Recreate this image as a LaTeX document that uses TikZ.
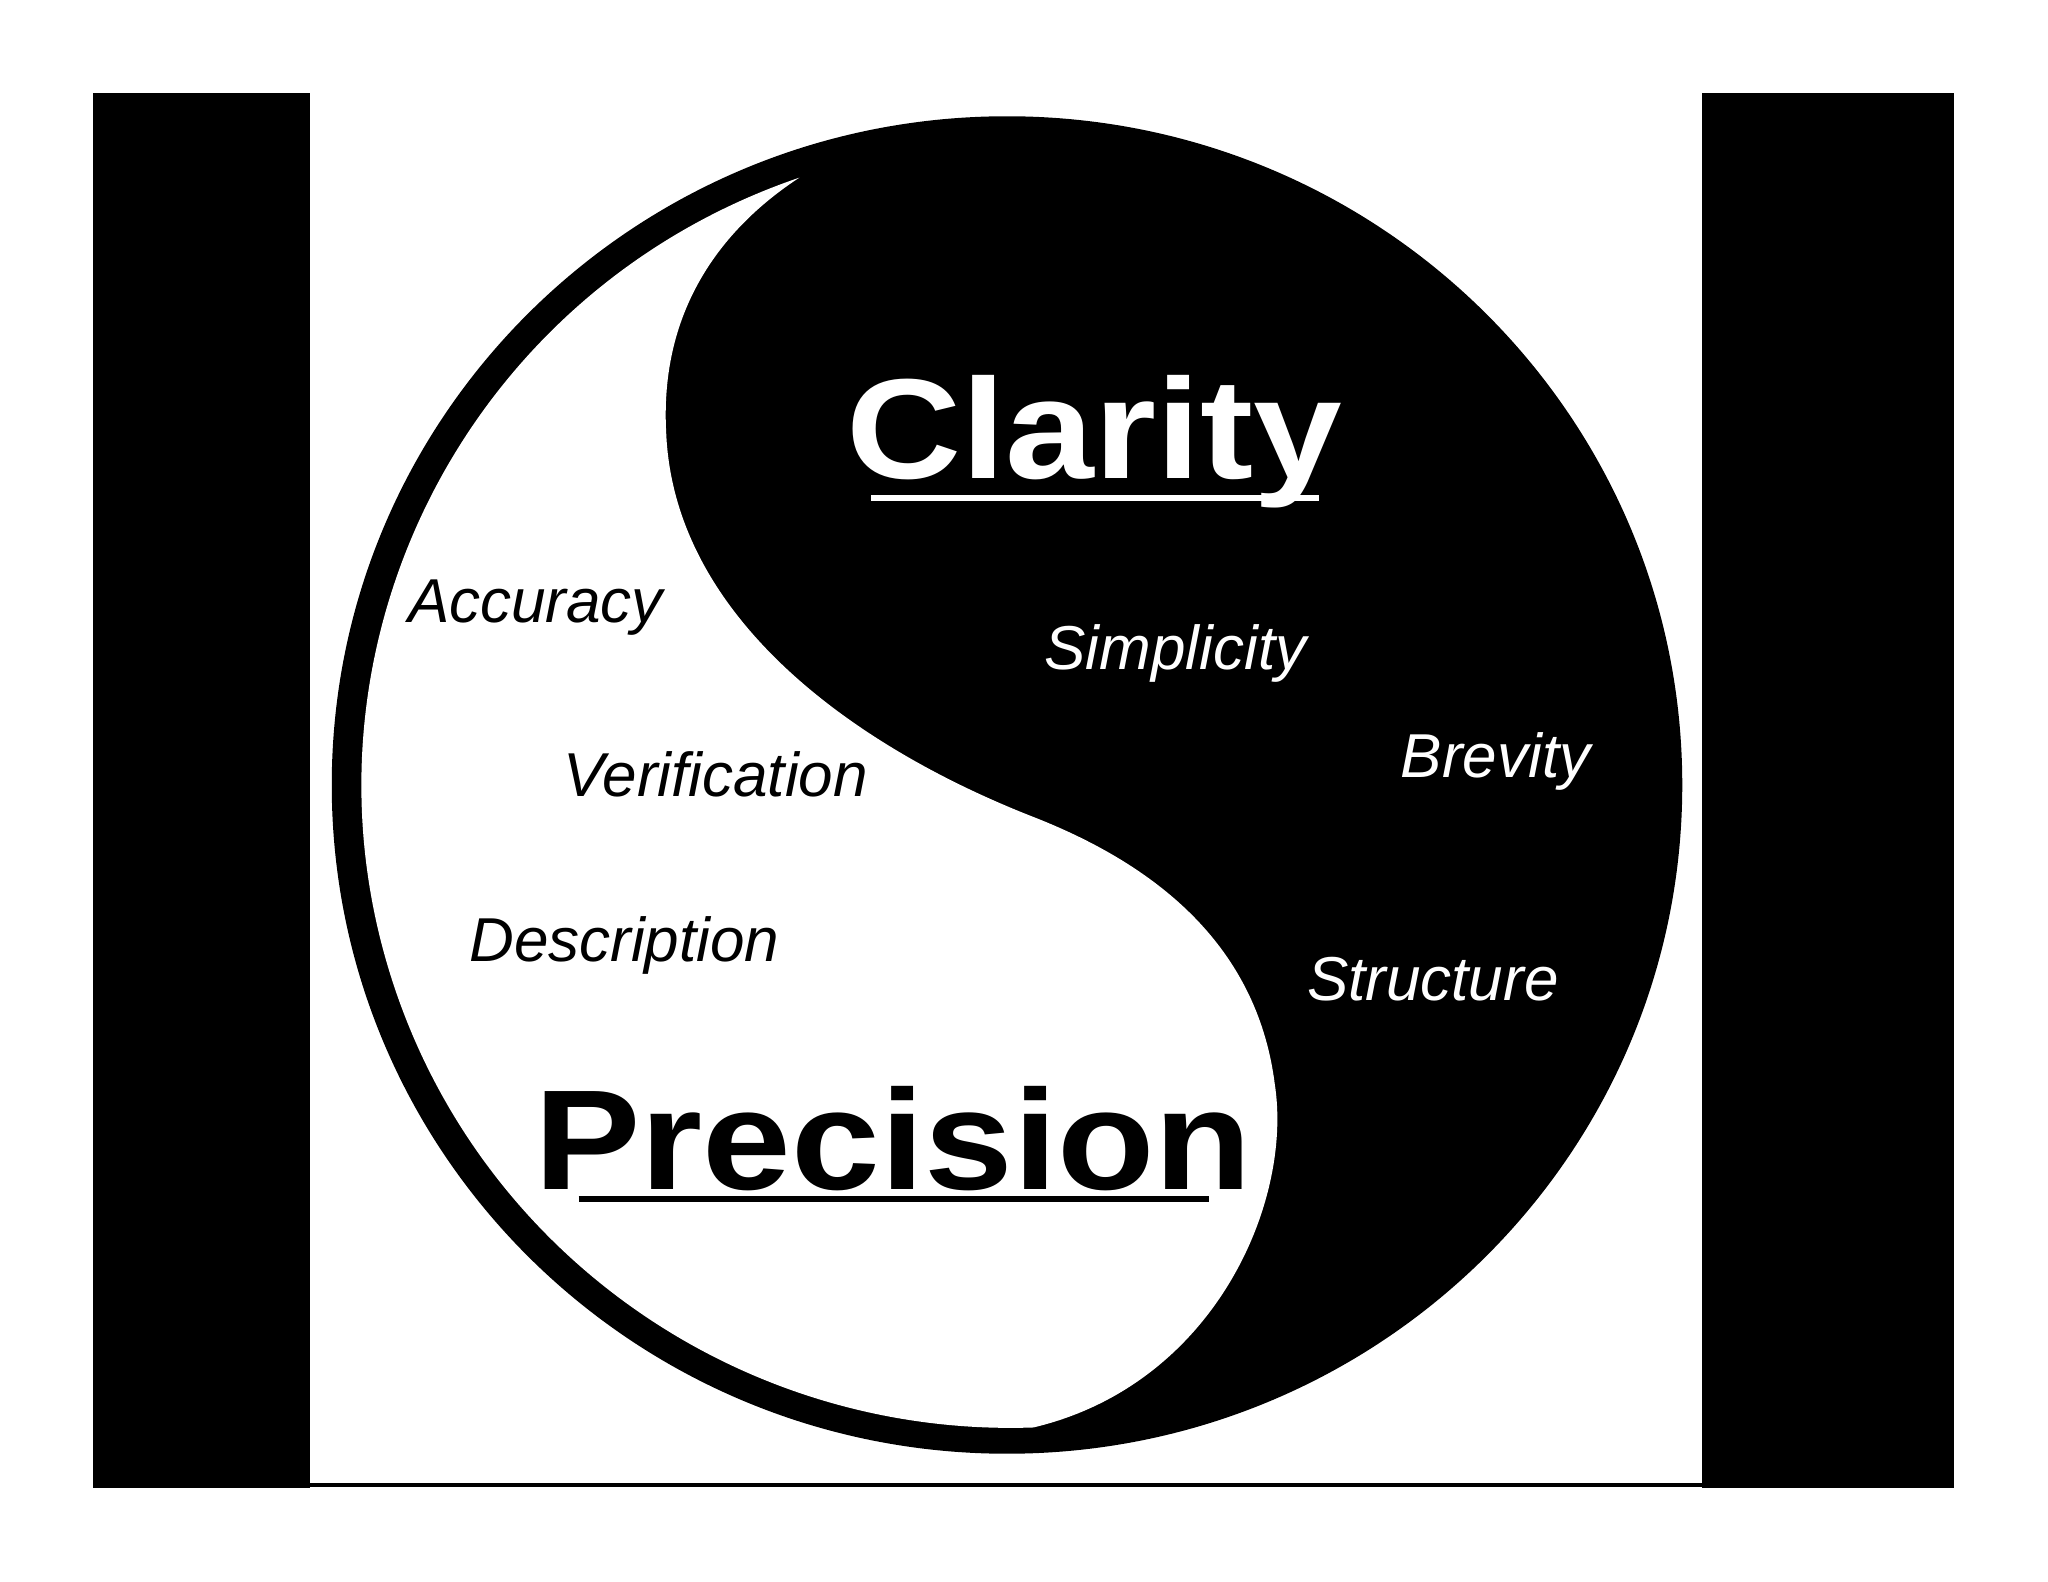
\documentclass[tikz,border=0pt]{standalone}
\usepackage{fontspec}
\setmainfont{Liberation Sans}
\begin{document}
\begin{tikzpicture}[x=0.01cm,y=-0.01cm,
  lbl/.style={font=\fontsize{13.5pt}{16pt}\selectfont\itshape},
  big/.style={font=\fontsize{31pt}{36pt}\selectfont\bfseries,xscale=1.12}]
\useasboundingbox (0,0) rectangle (1568,1211);
\fill[white] (0,0) rectangle (1568,1211);
\fill[black] (71,71) rectangle (237,1139);
\fill[black] (1303,71) rectangle (1496,1139);
\draw[line width=0.03cm] (237,1137) -- (1303,1137);
\fill[black] (771,601) ellipse [x radius=517, y radius=512];
\fill[white] (612,136) arc[start angle=251,end angle=88,x radius=497,y radius=492]
  .. controls (930,1060) and (990,920) .. (976,830)
  .. controls (962,720) and (880,660) .. (790,625)
  .. controls (650,570) and (515,470) .. (510,330)
  .. controls (505,230) and (560,170) .. (612,136) -- cycle;
\node[big,text=white] (clar) at (838,338) {Clarity};
\draw[white,line width=0.045cm] (667,381) -- (1010,381);
\node[big] (prec) at (684,872) {Precision};
\draw[line width=0.045cm] (443,918) -- (926,918);
\node[lbl] (acc) at (410,465) {Accuracy};
\node[lbl] (ver) at (548,593) {Verification};
\node[lbl] (des) at (478,724) {Description};
\node[lbl,text=white] (sim) at (900,500) {Simplicity};
\node[lbl,text=white] (bre) at (1145,583) {Brevity};
\node[lbl,text=white] (str) at (1097,750) {Structure};
\end{tikzpicture}
\end{document}
